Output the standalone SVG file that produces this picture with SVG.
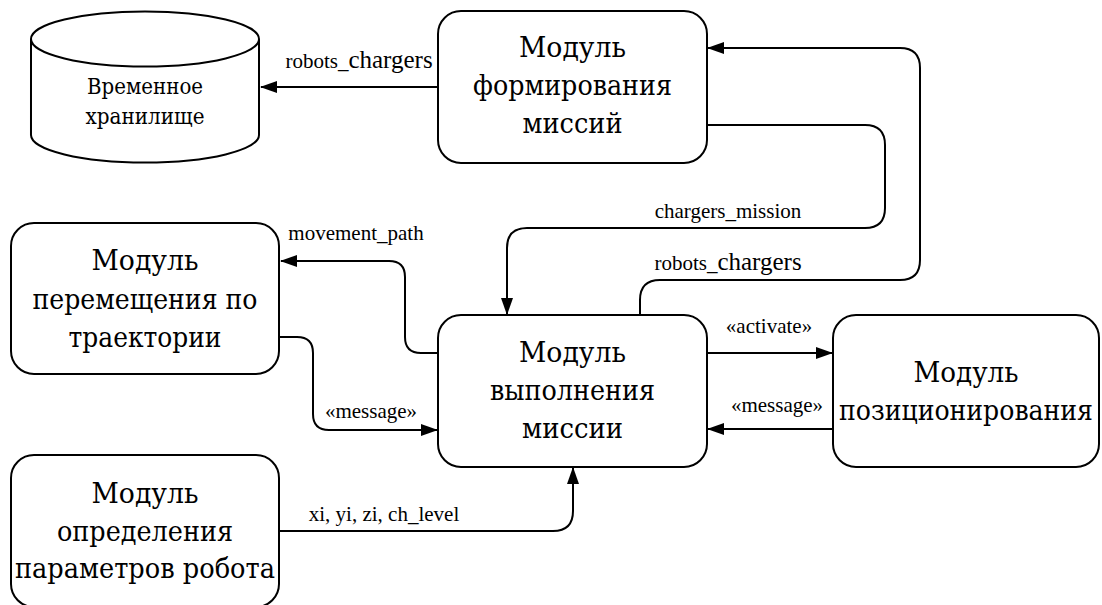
<svg xmlns="http://www.w3.org/2000/svg" width="1102" height="605" viewBox="0 0 1102 605">
<style>
.box{fill:#fff;stroke:#000;stroke-width:2}
.big{font-family:'DejaVu Serif','Liberation Serif',serif;font-size:28px;text-anchor:middle;fill:#000}
.mid{font-family:'DejaVu Serif','Liberation Serif',serif;font-size:22px;text-anchor:middle;fill:#000}
.lbl{font-family:'Liberation Serif','Times New Roman',serif;font-size:21px;text-anchor:middle;fill:#000}
.edge{fill:none;stroke:#000;stroke-width:2}
</style>
<defs>
<marker id="arr" markerUnits="userSpaceOnUse" markerWidth="17" markerHeight="12" refX="16" refY="6" orient="auto">
<path d="M0,0 L17,6 L0,12 z" fill="#000"/>
</marker>
</defs>
<rect width="1102" height="605" fill="#fff"/>
<g id="connectors">
<path class="edge" d="M438,87 L261,87" marker-end="url(#arr)"/>
<path class="edge" d="M707,125 L865,125 Q885,125 885,145 L885,208 Q885,228 865,228 L527,228 Q507,228 507,248 L507,314" marker-end="url(#arr)"/>
<path class="edge" d="M640,315 L640,300 Q640,280 660,280 L900,280 Q920,280 920,260 L920,68 Q920,48 900,48 L708,48" marker-end="url(#arr)"/>
<path class="edge" d="M438,353 L421,353 Q405,353 405,337 L405,277 Q405,261 389,261 L281,261" marker-end="url(#arr)"/>
<path class="edge" d="M279,337 L297,337 Q313,337 313,353 L313,414 Q313,430 329,430 L437,430" marker-end="url(#arr)"/>
<path class="edge" d="M707,353 L832,353" marker-end="url(#arr)"/>
<path class="edge" d="M833,429 L708,429" marker-end="url(#arr)"/>
<path class="edge" d="M279,531 L553,531 Q573,531 573,511 L573,468" marker-end="url(#arr)"/>
<text class="lbl" x="359" y="68"><tspan>robots_</tspan><tspan font-size="25">chargers</tspan></text>
<text class="lbl" x="728" y="218">chargers_mission</text>
<text class="lbl" x="728" y="270"><tspan>robots_</tspan><tspan font-size="25">chargers</tspan></text>
<text class="lbl" x="356" y="240">movement_path</text>
<text class="lbl" x="371" y="418">«message»</text>
<text class="lbl" x="769" y="333">«activate»</text>
<text class="lbl" x="777" y="412">«message»</text>
<text class="lbl" x="384" y="521">xi, yi, zi, ch_level</text>
</g>
<g id="storage">
<path class="box" d="M31,39 A114,27.5 0 0 1 259,39 L259,135 A114,27.5 0 0 1 31,135 Z"/>
<path class="edge" d="M31,39 A114,27.5 0 0 0 259,39"/>
<text class="mid" x="145" y="94" textLength="116" lengthAdjust="spacingAndGlyphs">Временное</text>
<text class="mid" x="145" y="124" textLength="119" lengthAdjust="spacingAndGlyphs">хранилище</text>
</g>
<g id="mission-forming">
<rect class="box" x="438" y="11" width="269" height="152" rx="23" ry="23"/>
<text class="big" x="572.5" y="57" textLength="107" lengthAdjust="spacingAndGlyphs">Модуль</text>
<text class="big" x="572.5" y="95" textLength="199" lengthAdjust="spacingAndGlyphs">формирования</text>
<text class="big" x="572.5" y="133" textLength="100" lengthAdjust="spacingAndGlyphs">миссий</text>
</g>
<g id="trajectory">
<rect class="box" x="11" y="223" width="268" height="151" rx="23" ry="23"/>
<text class="big" x="145" y="270" textLength="107" lengthAdjust="spacingAndGlyphs">Модуль</text>
<text class="big" x="145" y="309" textLength="225" lengthAdjust="spacingAndGlyphs">перемещения по</text>
<text class="big" x="145" y="347" textLength="153" lengthAdjust="spacingAndGlyphs">траектории</text>
</g>
<g id="mission-exec">
<rect class="box" x="438" y="315" width="269" height="152" rx="23" ry="23"/>
<text class="big" x="572.5" y="362" textLength="107" lengthAdjust="spacingAndGlyphs">Модуль</text>
<text class="big" x="572.5" y="400" textLength="165" lengthAdjust="spacingAndGlyphs">выполнения</text>
<text class="big" x="572.5" y="438" textLength="101" lengthAdjust="spacingAndGlyphs">миссии</text>
</g>
<g id="positioning">
<rect class="box" x="833" y="315" width="266" height="152" rx="23" ry="23"/>
<text class="big" x="966" y="382" textLength="105" lengthAdjust="spacingAndGlyphs">Модуль</text>
<text class="big" x="966" y="420" textLength="254" lengthAdjust="spacingAndGlyphs">позиционирования</text>
</g>
<g id="robot-params">
<rect class="box" x="11" y="455" width="268" height="152" rx="23" ry="23"/>
<text class="big" x="145" y="503" textLength="107" lengthAdjust="spacingAndGlyphs">Модуль</text>
<text class="big" x="145" y="541" textLength="176" lengthAdjust="spacingAndGlyphs">определения</text>
<text class="big" x="145" y="578" textLength="260" lengthAdjust="spacingAndGlyphs">параметров робота</text>
</g>
</svg>
